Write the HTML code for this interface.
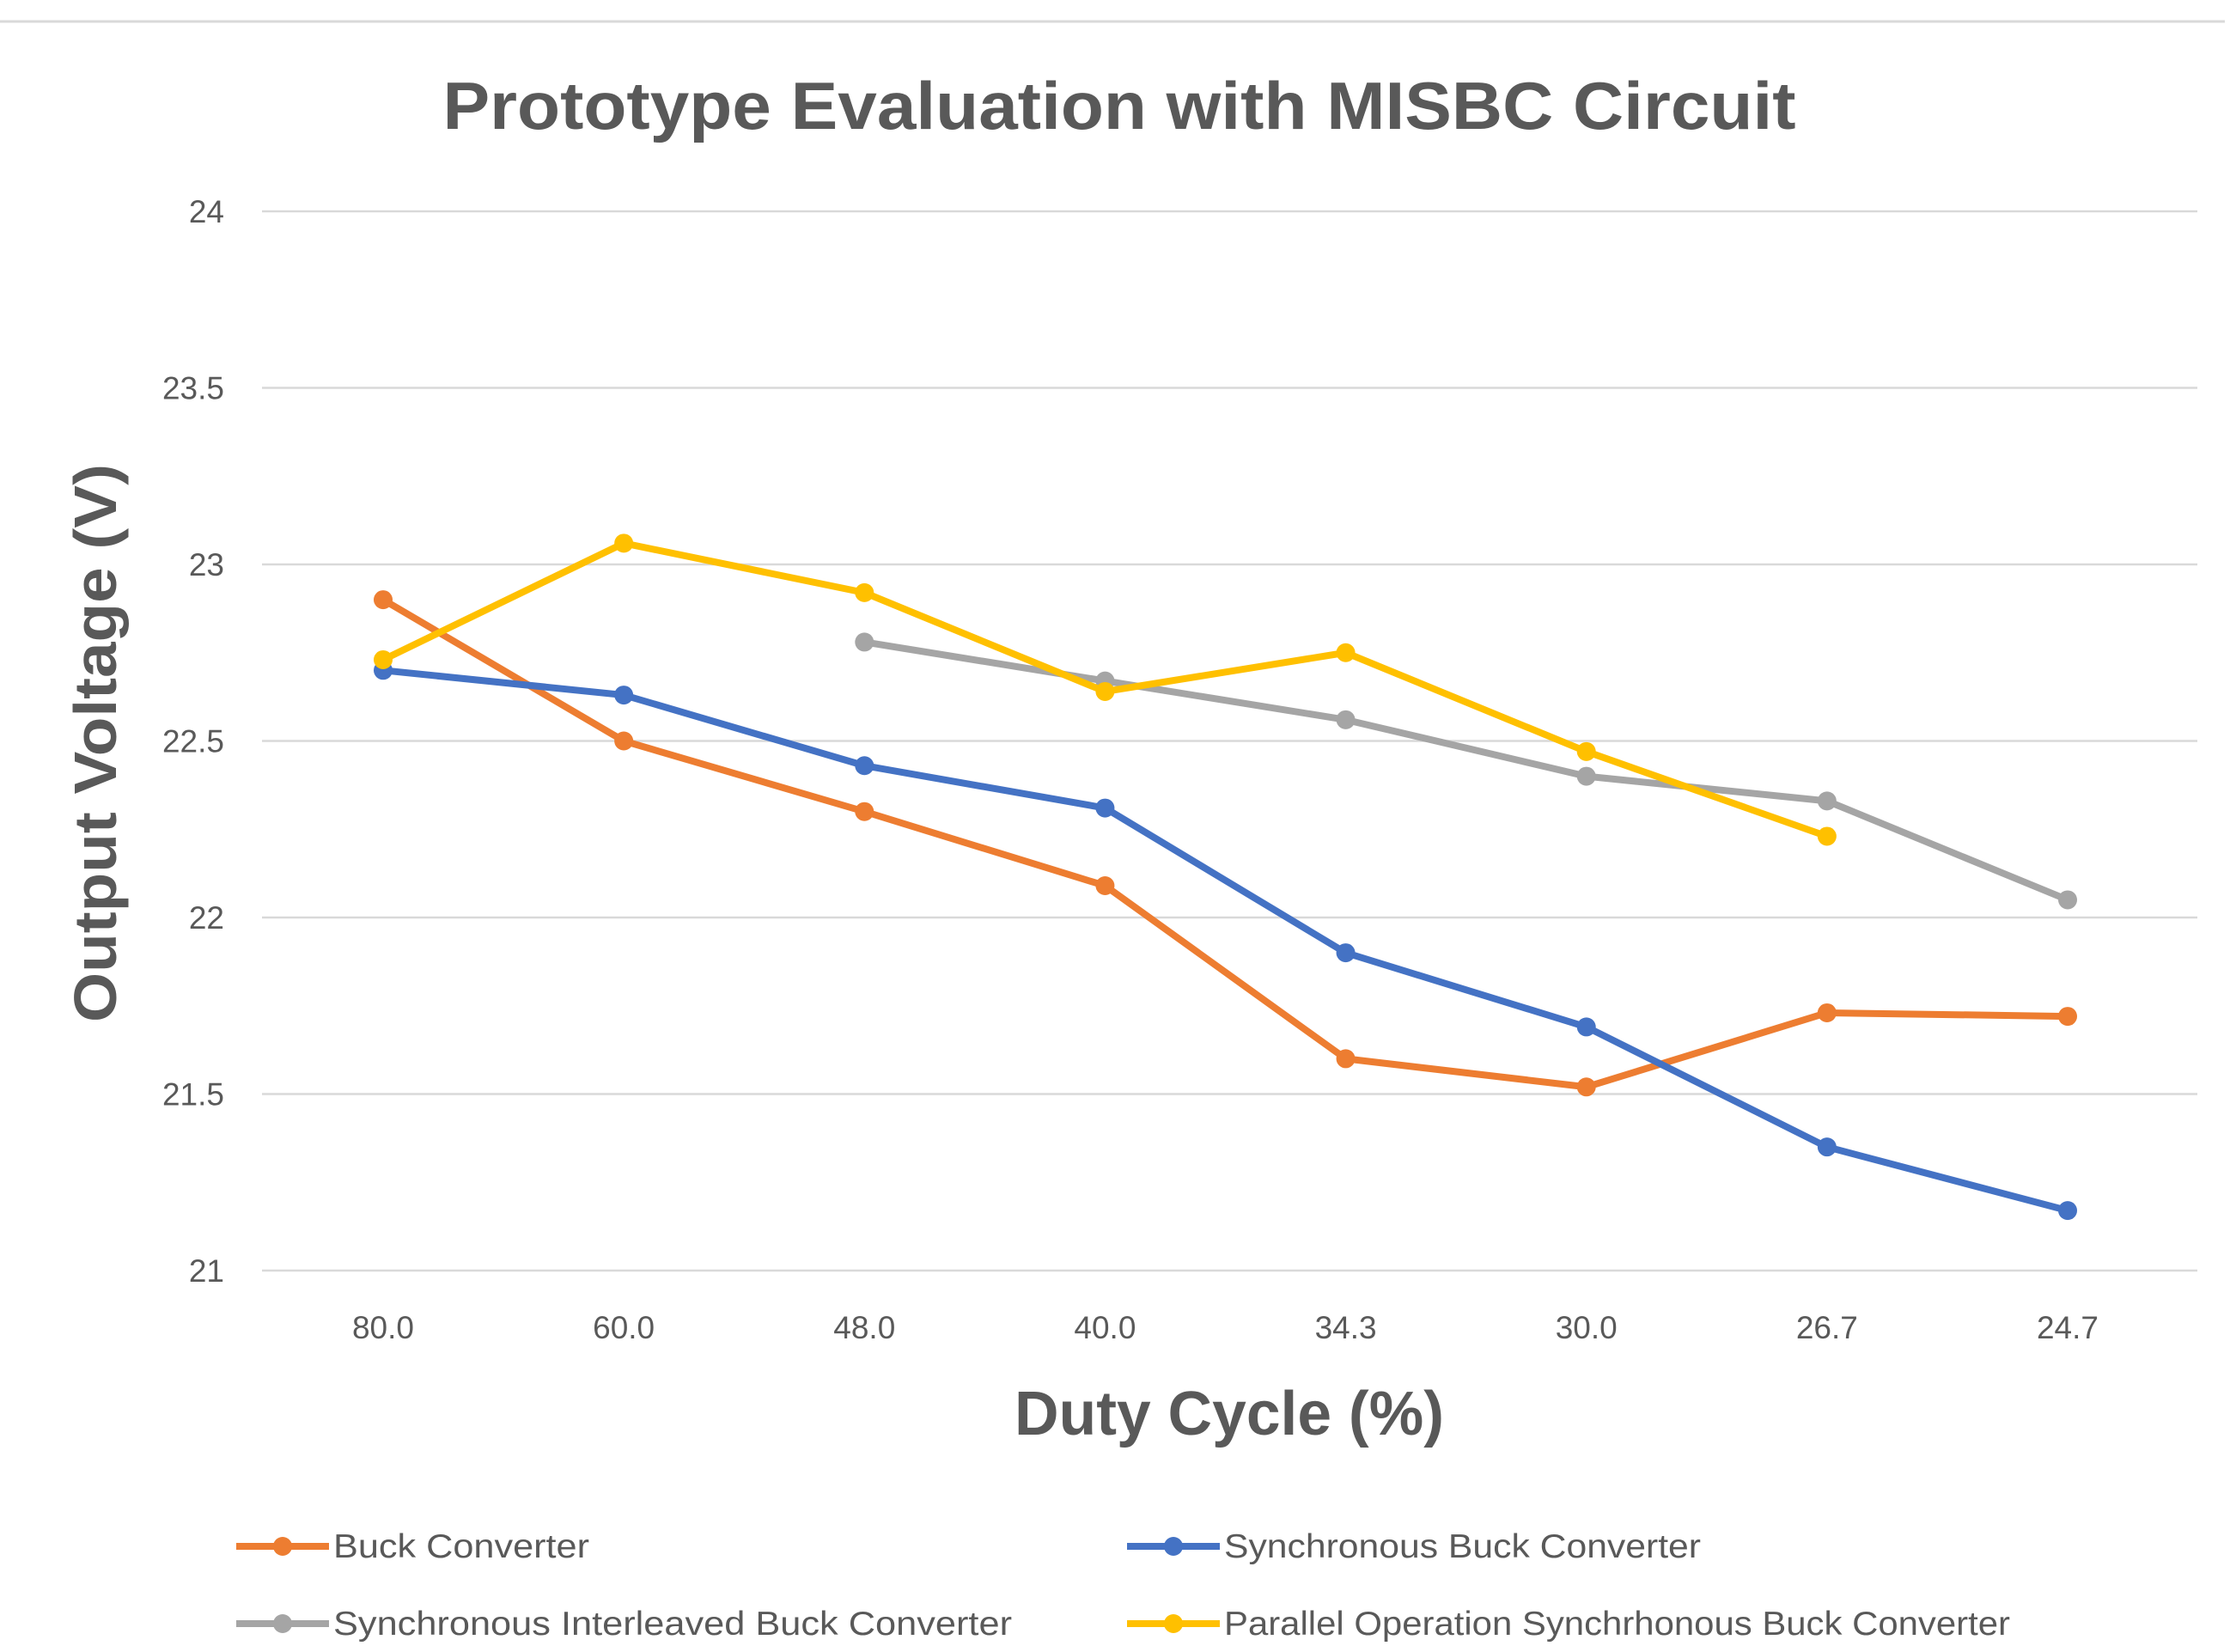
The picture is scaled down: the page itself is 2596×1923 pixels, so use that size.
<!DOCTYPE html>
<html><head><meta charset="utf-8"><style>
html,body{margin:0;padding:0;background:#fff;}
svg{display:block;font-family:"Liberation Sans",sans-serif;}
</style></head><body>
<svg id="chart" width="2596" height="1923" viewBox="0 0 2596 1923">
<line x1="0" y1="25" x2="2590" y2="25" stroke="#d9d9d9" stroke-width="3"/>
<text x="1303" y="150" text-anchor="middle" font-size="78" font-weight="bold" fill="#595959" textLength="1575" lengthAdjust="spacingAndGlyphs">Prototype Evaluation with MISBC Circuit</text>
<g id="grid"></g><g id="ylabels"></g><g id="xlabels"></g><g id="series"></g>
<text transform="translate(135,865) rotate(-90)" text-anchor="middle" font-size="70" font-weight="bold" fill="#595959" textLength="650" lengthAdjust="spacingAndGlyphs">Output Voltage (V)</text>
<text x="1431" y="1670" text-anchor="middle" font-size="72" font-weight="bold" fill="#595959" textLength="500" lengthAdjust="spacingAndGlyphs">Duty Cycle (%)</text>
<g id="legend"></g>
</svg>
<script>
const categories=["80.0","60.0","48.0","40.0","34.3","30.0","26.7","24.7"];
const yTicks=[21,21.5,22,22.5,23,23.5,24];
const yTickLabels=["21","21.5","22","22.5","23","23.5","24"];
const buck=[22.9,22.5,22.3,22.09,21.6,21.52,21.73,21.72];
const syncBuck=[22.7,22.63,22.43,22.31,21.9,21.69,21.35,21.17];
const interleaved=[null,null,22.78,22.67,22.56,22.4,22.33,22.05];
const parallel=[22.73,23.06,22.92,22.64,22.75,22.47,22.23,null];
const seriesNames=["Buck Converter","Synchronous Buck Converter","Synchronous Interleaved Buck Converter","Parallel Operation Synchrhonous Buck Converter"];

const NS="http://www.w3.org/2000/svg";
const X0=305,X1=2558,Y21=1479,Y24=246;
function xs(i){return 446+i*(2407-446)/(categories.length-1);}
function ys(v){return Y21+(v-21)*(Y24-Y21)/3;}
function mk(tag,attrs,parent){const e=document.createElementNS(NS,tag);for(const k in attrs)e.setAttribute(k,attrs[k]);parent.appendChild(e);return e;}
const grid=document.getElementById('grid'),yl=document.getElementById('ylabels'),xl=document.getElementById('xlabels');
yTicks.forEach((t,i)=>{
 const l=mk('line',{x1:X0,x2:X1,y1:ys(t),y2:ys(t),stroke:'#d9d9d9','stroke-width':2.5},grid);
 
 
 const tx=mk('text',{x:261,y:ys(t)+13,'text-anchor':'end','font-size':37,fill:'#595959'},yl);
 tx.textContent=yTickLabels[i];
 
 
});
categories.forEach((c,i)=>{
 const tx=mk('text',{x:xs(i),y:1558,'text-anchor':'middle','font-size':37,fill:'#595959'},xl);
 tx.textContent=c;
 
 
});
const colors=["#ED7D31","#4472C4","#A5A5A5","#FFC000"];
const data=[buck,syncBuck,interleaved,parallel];
const sg=document.getElementById('series');
const order=[2,0,1,3];
order.forEach(s=>{
 const arr=data[s];
 const g=mk('g',{},sg);
 
 
 let pts=[];arr.forEach((v,i)=>{if(v!==null)pts.push(xs(i)+','+ys(v));});
 const pl=mk('polyline',{points:pts.join(' '),fill:'none',stroke:colors[s],'stroke-width':8,'stroke-linejoin':'round'},g);
 
 
 arr.forEach((v,i)=>{if(v===null)return;
  const c=mk('circle',{cx:xs(i),cy:ys(v),r:11,fill:colors[s]},g);
  
  
 });
});
const lg=document.getElementById('legend');
const lpos=[[275,1800,298],[1312,1800,555],[275,1890,790],[1312,1890,915]];
lpos.forEach((p,s)=>{
 const g=mk('g',{},lg);
 
 
 mk('line',{x1:p[0],x2:p[0]+108,y1:p[1],y2:p[1],stroke:colors[s],'stroke-width':8},g);
 mk('circle',{cx:p[0]+54,cy:p[1],r:11,fill:colors[s]},g);
 const t=mk('text',{x:p[0]+113,y:p[1]+13,'font-size':39,fill:'#595959',textLength:p[2],lengthAdjust:'spacingAndGlyphs'},g);
 t.textContent=seriesNames[s];
});
</script>
</body></html>
